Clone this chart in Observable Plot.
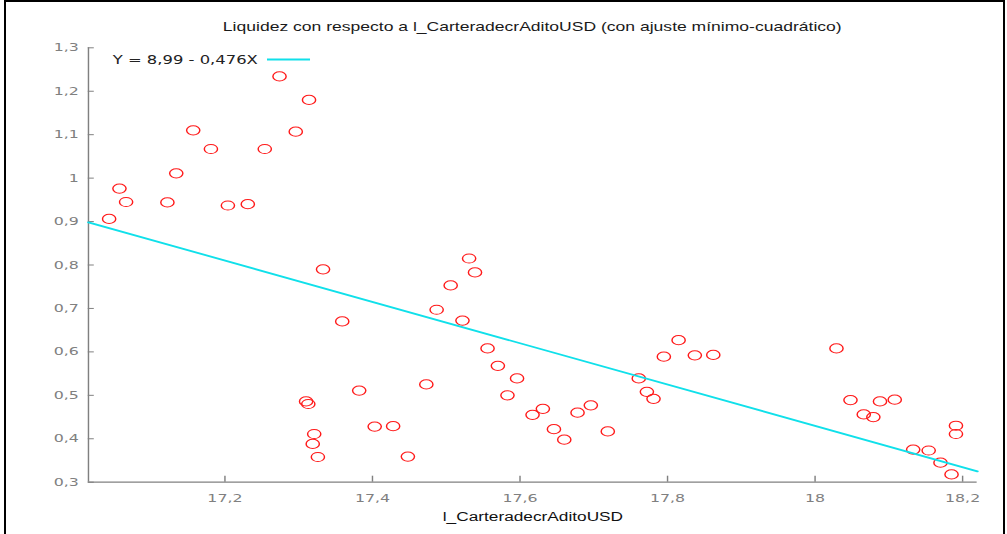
<!DOCTYPE html>
<html>
<head>
<meta charset="utf-8">
<script src="https://cdn.jsdelivr.net/npm/d3@7"></script>
<script src="https://cdn.jsdelivr.net/npm/@observablehq/plot@0.6"></script>
<style>
  html, body { margin: 0; padding: 0; background: #fff; overflow: hidden; width: 1007px; height: 534px; }
  #wrap { position: absolute; left: 0; top: 0; width: 700px; transform: scaleX(1.43857); transform-origin: 0 0; }
  #title { height: 40px; box-sizing: border-box; padding: 20px 21px 0 61px; text-align: center;
           font-family: "Liberation Sans", Arial, sans-serif; font-size: 12.2px; line-height: 14px; color: #1a1a1a; white-space: nowrap; }
  #frame { position: absolute; left: 4px; top: 0; width: 1001px; height: 600px; box-sizing: border-box;
           border: 2.5px solid #000; border-bottom: none; pointer-events: none; }
</style>
</head>
<body>
<div id="wrap"><div id="title">Liquidez con respecto a l_CarteradecrAditoUSD (con ajuste mínimo-cuadrático)</div></div>
<div id="frame"></div>
<script>
// Data
const xValues = [17.043, 17.057, 17.066, 17.122, 17.134, 17.157, 17.181, 17.204, 17.231, 17.254,
  17.274, 17.296, 17.314, 17.333, 17.359, 17.310, 17.313, 17.321, 17.319, 17.326,
  17.382, 17.403, 17.428, 17.448, 17.473, 17.487, 17.506, 17.522, 17.531, 17.539,
  17.556, 17.570, 17.583, 17.596, 17.617, 17.631, 17.646, 17.660, 17.678, 17.696,
  17.719, 17.761, 17.772, 17.781, 17.795, 17.815, 17.837, 17.862, 18.029, 18.048,
  18.066, 18.079, 18.088, 18.108, 18.133, 18.154, 18.170, 18.185, 18.191, 18.191];
const yValues = [0.906, 0.976, 0.945, 0.944, 1.011, 1.110, 1.067, 0.937, 0.940, 1.067,
  1.234, 1.107, 1.180, 0.790, 0.670, 0.486, 0.480, 0.411, 0.388, 0.358,
  0.511, 0.428, 0.429, 0.359, 0.525, 0.697, 0.753, 0.672, 0.815, 0.783,
  0.608, 0.568, 0.500, 0.539, 0.455, 0.469, 0.422, 0.398, 0.460, 0.477,
  0.417, 0.539, 0.508, 0.492, 0.589, 0.627, 0.592, 0.593, 0.608, 0.489,
  0.456, 0.450, 0.486, 0.490, 0.375, 0.373, 0.345, 0.318, 0.430, 0.411];
const fitIntercept = 8.994;
const fitSlope = -0.4758;
const fitLabel = "Y = 8,99 - 0,476X";
const xDomain = [17.015, 18.22];
const yDomain = [0.3, 1.3];
const xTicks = [17.2, 17.4, 17.6, 17.8, 18, 18.2];
const yTicks = [0.3, 0.4, 0.5, 0.6, 0.7, 0.8, 0.9, 1.0, 1.1, 1.2, 1.3];
const xLabel = "l_CarteradecrAditoUSD";

const points = xValues.map((x, i) => ({x, y: yValues[i]}));
const fitLine = xDomain.map(x => ({x, y: fitIntercept + fitSlope * x}));
const fmt = d => String(+d.toFixed(1)).replace(".", ",");
const gray = "#808080";

const chart = Plot.plot({
  width: 700, height: 494,
  marginLeft: 61, marginRight: 21.1, marginTop: 7.3, marginBottom: 52.3,
  x: {domain: xDomain},
  y: {domain: yDomain},
  style: {fontFamily: "'DejaVu Sans', sans-serif", fontSize: "11px", overflow: "visible", background: "transparent"},
  marks: [
    Plot.ruleX([xDomain[0]], {stroke: gray, strokeWidth: 1}),
    Plot.ruleY([yDomain[0]], {stroke: gray, strokeWidth: 1.3}),
    Plot.axisY(yTicks, {tickSize: -4.2, tickPadding: 10.9, tickFormat: fmt, color: gray, label: null}),
    Plot.axisX(xTicks, {tickSize: -6, tickPadding: 18, tickFormat: fmt, color: gray, label: null}),
    Plot.dot(points, {x: "x", y: "y", r: 4.6, stroke: "#ff1a1a", strokeWidth: 1, fill: "none"}),
    Plot.line(fitLine, {x: "x", y: "y", stroke: "#10e0ea", strokeWidth: 1.8}),
    Plot.text([xLabel], {text: d => d, frameAnchor: "bottom", dy: 35.3, lineAnchor: "middle",
      fontFamily: "'Liberation Sans', Arial, sans-serif", fontSize: 12, fill: "#111"}),
    Plot.text([fitLabel], {text: d => d, frameAnchor: "top-left", dx: 117.7, dy: 12.2, textAnchor: "end",
      lineAnchor: "middle", fontSize: 11.4, fill: "#222"})
  ]
});
document.getElementById("wrap").appendChild(chart);

// legend swatch
d3.select(chart).append("line")
  .attr("x1", 185.6).attr("x2", 215.5).attr("y1", 19.5).attr("y2", 19.5)
  .attr("stroke", "#10e0ea").attr("stroke-width", 2);
</script>
</body>
</html>
